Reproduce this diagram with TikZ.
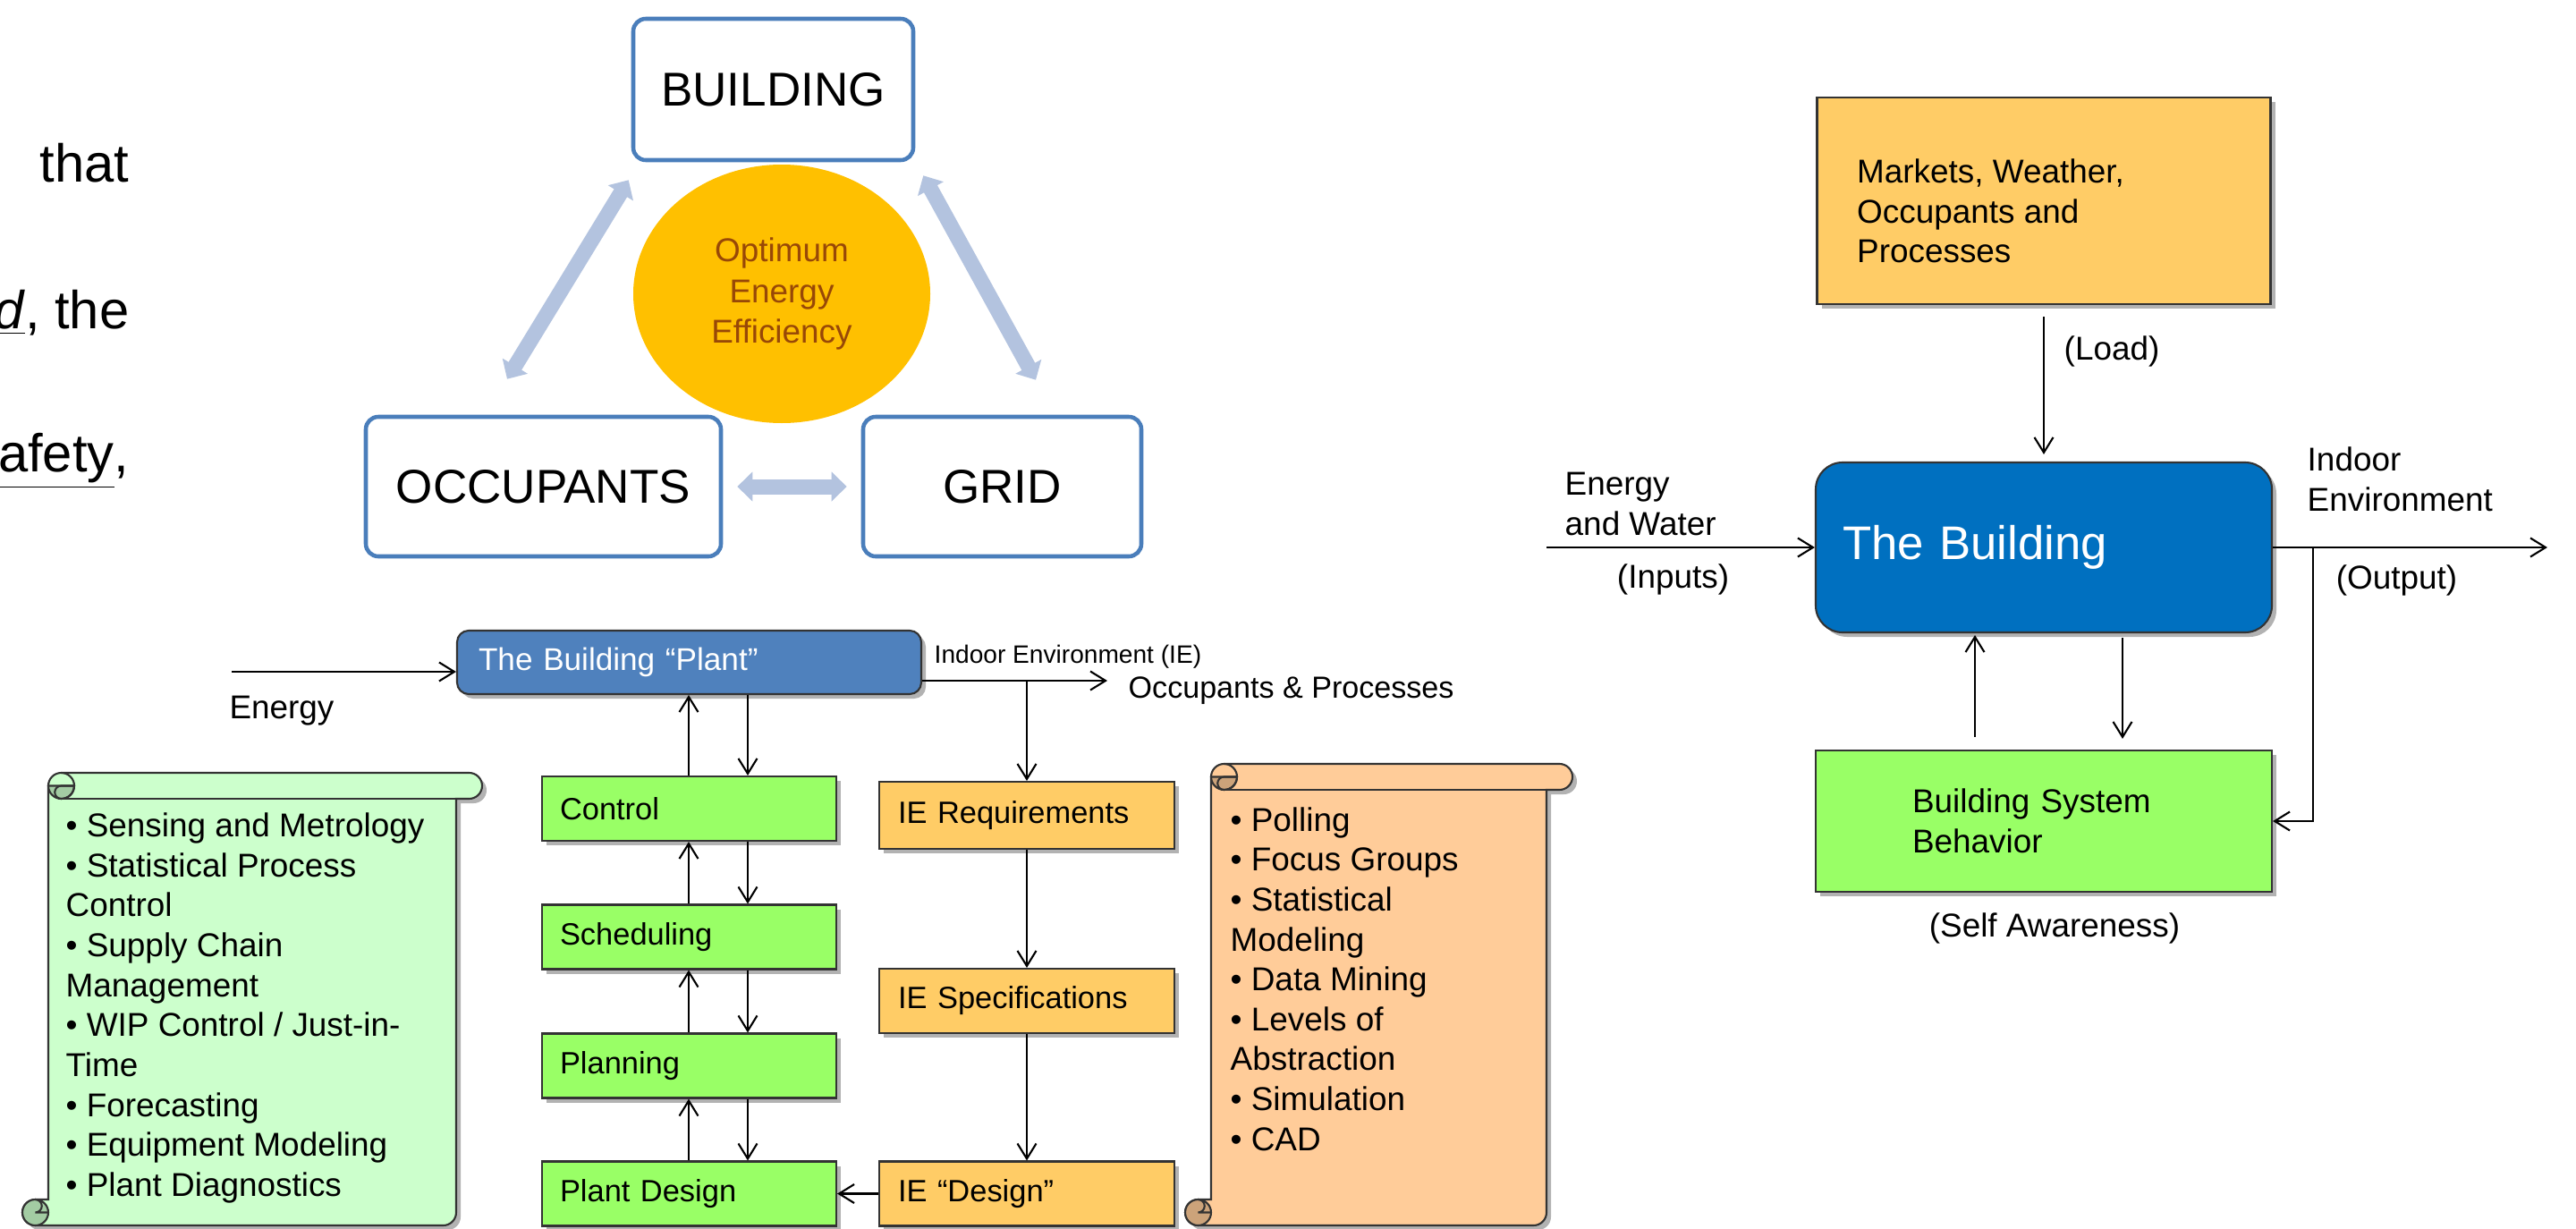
\documentclass[tikz,border=0pt]{standalone}
\usepackage{fontspec}
\setmainfont{Liberation Sans}
\usepackage{tikz}
\usetikzlibrary{arrows.meta}
\usetikzlibrary{calc}
\usetikzlibrary{positioning}
\usetikzlibrary{shadows}
\usetikzlibrary{shapes.geometric}

\definecolor{boxblue}{HTML}{4A7EBB}
\definecolor{arrowblue}{HTML}{B3C3DF}
\definecolor{sun}{HTML}{FFC000}
\definecolor{ochre}{HTML}{984807}
\definecolor{plantblue}{HTML}{4F81BD}
\definecolor{deepblue}{HTML}{0070C0}
\definecolor{lime}{HTML}{99FF66}
\definecolor{apricot}{HTML}{FFCC66}
\definecolor{mint}{HTML}{CCFFCC}
\definecolor{mintdark}{HTML}{A3CCA3}
\definecolor{peach}{HTML}{FFCC99}
\definecolor{peachdark}{HTML}{CCA37A}

\tikzset{>={Straight Barb[length=1.7mm,width=2.1mm]}}
\tikzset{flow/.style = {->, line width=0.6pt}}
\tikzset{bigarrow/.style = {line width=0.17cm, draw=arrowblue,
                            {Triangle[width=0.32cm,length=0.17cm]}-{Triangle[width=0.32cm,length=0.17cm]}}}
\tikzset{shadowed/.style = {drop shadow={shadow xshift=0.05cm, shadow yshift=-0.05cm,
                                         opacity=0.3, fill=black}}}
\tikzset{corner/.style = {draw=boxblue, line width=1.3pt, rounded corners=0.14cm, fill=white,
                          font=\fontsize{15.1}{18}\selectfont}}
\tikzset{stage/.style = {draw=black!80, line width=0.6pt, fill=lime, shadowed,
                         minimum height=0.72cm, inner xsep=0.2cm, text width=2.89cm,
                         align=left, font=\fontsize{9.8}{12}\selectfont}}
\tikzset{iebox/.style = {stage, fill=apricot, inner xsep=0.21cm, text width=2.88cm}}
\tikzset{note/.style = {inner sep=0, align=left, font=\fontsize{10.5}{12.7}\selectfont}}
\tikzset{slide/.style = {inner sep=0, font=\fontsize{17}{20}\selectfont}}

\newcommand{\drawscroll}[6]{%
  % #1 left, #2 top, #3 right, #4 bottom, #5 paper, #6 curl
  \def\ch{0.29}
  \filldraw[fill=#5, draw=black!80, line width=0.6pt, shadowed]
    (#1+\ch, #4+\ch) -- (#1+\ch, #2-\ch/2) arc[start angle=180, end angle=90, radius=\ch/2]
    -- (#3-\ch/2, #2) arc[start angle=90, end angle=-90, radius=\ch/2]
    -- (#3-\ch, #2-\ch) -- (#3-\ch, #4+\ch/2) arc[start angle=0, end angle=-90, radius=\ch/2]
    -- (#1+\ch/2, #4) arc[start angle=270, end angle=90, radius=\ch/2] -- cycle;
  \draw[line width=0.6pt, draw=black!80] (#3-\ch, #2-\ch) -- (#1+1.5*\ch, #2-\ch);
  \filldraw[fill=#6, draw=black!80, line width=0.6pt]
    (#1+\ch, #2-\ch/2) arc[start angle=180, end angle=360, radius=\ch/2] -- cycle;
  \draw[line width=0.6pt, draw=black!80] (#1+1.5*\ch, #2) arc[start angle=90, end angle=-90, radius=\ch/2]
    arc[start angle=-90, end angle=-270, radius=\ch/4] -- (#1+2*\ch, #2-\ch/2);
  \filldraw[fill=#6, draw=black!80, line width=0.6pt] (#1+\ch/2, #4+\ch/2) circle[radius=\ch/2];
  \draw[line width=0.6pt, draw=black!80] (#1+\ch/2, #4+\ch) arc[start angle=90, end angle=-90, radius=\ch/4]
    -- (#1+\ch, #4+\ch/2);
}

\begin{document}
\begin{tikzpicture}
    \path[use as bounding box, fill=white] (0,0) rectangle (28.8,-13.74);

    % slide text cut at the left edge
    \node[slide, anchor=base east] (that) at (1.45,-2.03) {that};
    \node[slide, anchor=base east] (the) at (1.45,-3.67) {\underline{\textit{d}}, the};
    \node[slide, anchor=base east] (safety) at (1.45,-5.27) {\underline{afety},};

    % triangle
    \node[ellipse, fill=sun, inner sep=0, minimum width=3.32cm, minimum height=2.89cm,
          text=ochre, align=center, font=\fontsize{10.5}{12.9}\selectfont]
          (optimum) at (8.74,-3.285) {Optimum\\Energy\\Efficiency};
    \node[corner, minimum width=3.13cm, minimum height=1.58cm] (building) at (8.645,-1.00) {BUILDING};
    \node[corner, minimum width=3.97cm, minimum height=1.56cm] (occupants) at (6.075,-5.44) {OCCUPANTS};
    \node[corner, minimum width=3.11cm, minimum height=1.56cm] (grid) at (11.205,-5.44) {GRID};

    \draw[bigarrow] ($(occupants.north)+(-0.405,0.40)$) -- ($(building.south west)+(-0.03,-0.20)$);
    \draw[bigarrow] ($(building.south east)+(0.09,-0.15)$) -- ($(grid.north)+(0.375,0.39)$);
    \draw[bigarrow] ($(occupants.east)+(0.16,0)$) -- ($(grid.west)+(-0.16,0)$);

    % building plant
    \drawscroll{0.25}{-8.64}{5.39}{-13.70}{mint}{mintdark}
    \drawscroll{13.25}{-8.54}{17.58}{-13.70}{peach}{peachdark}

    \node[draw=black!80, line width=0.6pt, fill=plantblue, rounded corners=0.13cm, shadowed,
          minimum height=0.71cm, inner xsep=0.24cm, text width=4.71cm, align=left,
          text=white, font=\fontsize{10}{12}\selectfont]
          (plant) at (7.705,-7.405) {The Building “Plant”};

    \node[stage] (control) at (7.705,-9.04) {Control};
    \node[stage] (scheduling) at (7.705,-10.475) {Scheduling};
    \node[stage] (planning) at (7.705,-11.915) {Planning};
    \node[stage] (plantdesign) at (7.705,-13.345) {Plant Design};

    \node[iebox, minimum height=0.75cm] (iereq) at (11.48,-9.115) {IE Requirements};
    \node[iebox] (iespec) at (11.48,-11.19) {IE Specifications};
    \node[iebox] (iedesign) at (11.48,-13.345) {IE “Design”};

    \coordinate (upx) at (7.70,0);
    \coordinate (downx) at (8.36,0);
    \foreach \lo/\hi in {control/plant, scheduling/control, planning/scheduling, plantdesign/planning} {
        \draw[flow] (\lo.north -| upx) -- (\hi.south -| upx);
        \draw[flow] (\hi.south -| downx) -- (\lo.north -| downx);
    }

    \coordinate (energyin) at (2.59,-7.51);
    \draw[flow] (energyin) -- (energyin -| plant.west);
    \node[note] (energy) at (3.15,-7.95) {Energy};

    \coordinate (ieout) at (12.38,-7.61);
    \coordinate (iedrop) at (11.48,-7.61);
    \draw[flow] (ieout -| plant.east) -- (ieout);
    \draw[flow] (iedrop) -- (iereq.north);
    \draw[flow] (iereq) -- (iespec);
    \draw[flow] (iespec) -- (iedesign);
    \draw[flow] (iedesign) -- (plantdesign);
    \node[note, anchor=west, font=\fontsize{8}{10}\selectfont] (ielabel) at (10.44,-7.34) {Indoor Environment (IE)};
    \node[note, anchor=west, font=\fontsize{9.7}{12}\selectfont] (occproc) at (12.61,-7.72) {Occupants \& Processes};

    \node[note, anchor=west] (sensing) at (0.73,-11.27)
        {• Sensing and Metrology\\• Statistical Process\\Control\\• Supply Chain\\Management\\%
         • WIP Control / Just-in-\\Time\\• Forecasting\\• Equipment Modeling\\• Plant Diagnostics};
    \node[note, anchor=west] (polling) at (13.75,-10.945)
        {• Polling\\• Focus Groups\\• Statistical\\Modeling\\• Data Mining\\• Levels of\\Abstraction\\%
         • Simulation\\• CAD};

    % the building as a system
    \node[draw=black!80, line width=0.6pt, fill=apricot, shadowed,
          minimum width=5.07cm, minimum height=2.31cm] (markets) at (22.85,-2.245) {};
    \node[note, anchor=west] (marketstext) at ($(markets.west)+(0.45,-0.115)$)
        {Markets, Weather,\\Occupants and\\Processes};

    \node[draw=black!80, line width=0.6pt, fill=deepblue, rounded corners=0.3cm, shadowed,
          minimum height=1.90cm, inner xsep=0.30cm, text width=4.50cm, align=left,
          text=white, font=\fontsize{15}{18}\selectfont]
          (thebuilding) at (22.85,-6.12) {The Building};

    \node[draw=black!80, line width=0.6pt, fill=lime, shadowed,
          minimum height=1.58cm, inner xsep=1.08cm, text width=2.94cm, align=left,
          font=\fontsize{10.5}{12.7}\selectfont]
          (bsb) at (22.85,-9.18) {Building System\\Behavior};

    \draw[flow, shorten <=0.13cm, shorten >=0.08cm] (markets.south) -- (thebuilding.north);
    \node[note, anchor=west] (load) at (23.07,-3.93) {(Load)};

    \coordinate (inflow) at (17.29,-6.12);
    \draw[flow] (inflow) -- (thebuilding.west);
    \node[note, anchor=west] (energywater) at (17.49,-5.635) {Energy\\and Water};
    \node[note] (inputs) at (18.705,-6.48) {(Inputs)};

    \coordinate (outflow) at (28.48,-6.12);
    \coordinate (fbx) at (25.86,-6.12);
    \draw[flow] (thebuilding.east) -- (outflow);
    \draw[flow] (fbx) |- (bsb.east);
    \node[note, anchor=west] (indoor) at (25.79,-5.355) {Indoor\\Environment};
    \node[note] (output) at (26.795,-6.49) {(Output)};

    \coordinate (bupx) at (22.08,0);
    \coordinate (bdownx) at (23.73,0);
    \draw[flow, shorten <=0.14cm, shorten >=0.02cm] (bsb.north -| bupx) -- (thebuilding.south -| bupx);
    \draw[flow, shorten <=0.05cm, shorten >=0.12cm] (thebuilding.south -| bdownx) -- (bsb.north -| bdownx);
    \node[note] (selfaware) at (22.97,-10.38) {(Self Awareness)};
\end{tikzpicture}
\end{document}
